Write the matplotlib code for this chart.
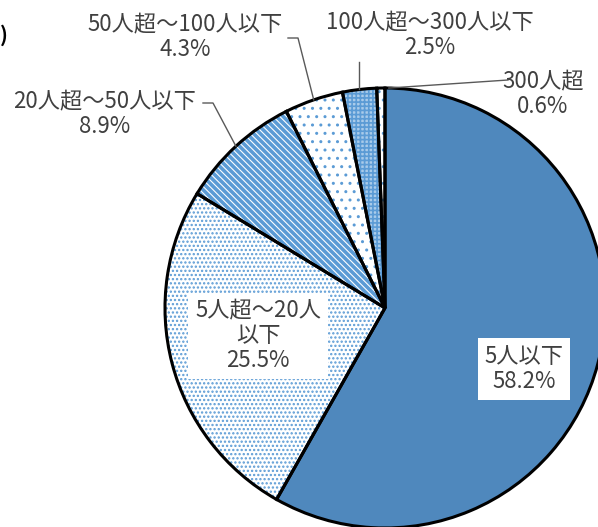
import numpy as np
import matplotlib
matplotlib.use("Agg")
import matplotlib.pyplot as plt

plt.rcParams['font.family'] = ['Noto Sans CJK JP', 'DejaVu Sans']

# data (company size share, clockwise from top)
categories = ["5人以下", "5人超～20人\n以下", "20人超～50人以下", "50人超～100人以下",
              "100人超～300人以下", "300人超"]
shares = [58.2, 25.5, 8.9, 4.3, 2.5, 0.6]

W, H = 598, 527
CX, CY, R = 385, H - 308, 220
BLUE = '#4F88BD'
HBLUE = '#5B9BD5'
TXT = '#404040'

fig = plt.figure(figsize=(W / 100, H / 100), dpi=100)
ax = fig.add_axes([0, 0, 1, 1])
ax.set_xlim(0, W)
ax.set_ylim(0, H)
ax.set_aspect('equal')
ax.axis('off')

faces = [BLUE, 'white', 'white', 'white', '#A9CBEA', 'white']
hatches = [None, '....', '\\' * 5, '..', '++++', '..']
hlw = [1, 1.1, 2.6, 1.0, 1.2, 1.0]

# fill + hatch pass
wedges, _ = ax.pie(shares, startangle=90, counterclock=False, center=(CX, CY),
                   radius=R, colors=faces, wedgeprops=dict(linewidth=0))
for w, h, lw in zip(wedges, hatches, hlw):
    if h:
        w.set_hatch(h)
        w.set_edgecolor(HBLUE)
        w.set_linewidth(0)
        if hasattr(w, 'set_hatch_linewidth'):
            w.set_hatch_linewidth(lw)
        else:
            w._hatch_linewidth = lw
# outline pass
ax.pie(shares, startangle=90, counterclock=False, center=(CX, CY), radius=R,
       colors=['none'] * len(shares),
       wedgeprops=dict(edgecolor='black', linewidth=2.2, fill=False))
ax.set_xlim(0, W)
ax.set_ylim(0, H)

# rim points at wedge middles
cum = np.cumsum(shares) - np.array(shares) / 2
ang = np.deg2rad(90 - 360 * cum / 100)
rim = [(CX + R * np.cos(a), CY + R * np.sin(a)) for a in ang]

fs = 16

def lab(i, x, y, **kw):
    ax.text(x, H - y, f"{categories[i]}\n{shares[i]}%", ha='center', va='center',
            fontsize=fs, color=TXT, linespacing=1.1, **kw)

# inner labels
lab(0, 524, 369, bbox=dict(boxstyle='square,pad=0.3', fc='white', ec='none'))
lab(1, 258, 336, bbox=dict(boxstyle='square,pad=0.3', fc='white', ec='none'))

# outer labels with leader lines
lab(2, 105, 114)
ax.plot([203, 213, rim[2][0]], [H - 103, H - 103, rim[2][1]], color='#595959', lw=1)
lab(3, 185, 37)
ax.plot([288, 298, rim[3][0]], [H - 38, H - 38, rim[3][1]], color='#595959', lw=1)
lab(4, 430, 35)
ax.plot([rim[4][0], rim[4][0]], [H - 62, rim[4][1]], color='#595959', lw=1)
lab(5, 543, 94)
ax.plot([508, rim[5][0] + 8], [H - 80, rim[5][1]], color='#595959', lw=1)

ax.text(0, H - 35, ")", ha='left', va='center', fontsize=15, fontweight='bold',
        color='black')

fig.savefig("out.png", dpi=100)
